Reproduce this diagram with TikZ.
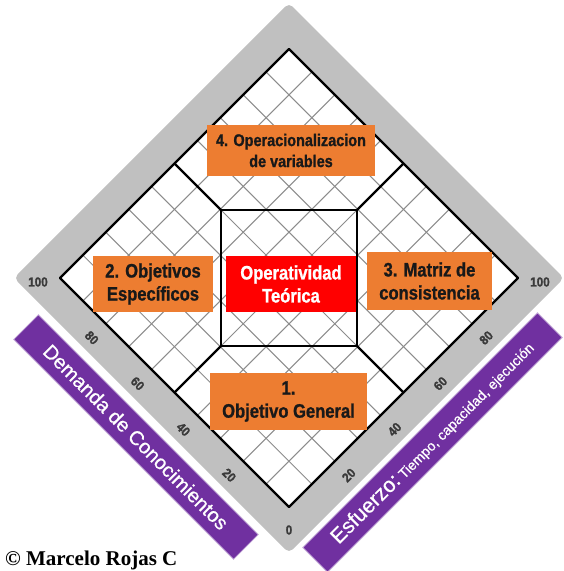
\documentclass[tikz,border=0pt]{standalone}
\usepackage{fontspec}
\usetikzlibrary{calc}
\newfontfamily\boxfont[FakeStretch=0.85,FakeBold=1]{Liberation Sans Bold}
\newfontfamily\numfont[FakeStretch=0.9,FakeBold=1.5]{Liberation Sans Bold}
\newfontfamily\bandfont[FakeBold=0.7]{Liberation Sans}
\newfontfamily\copyfont{Liberation Serif Bold}
\definecolor{rimgray}{HTML}{C0C0C0}
\definecolor{gridgray}{HTML}{8C8C8C}
\definecolor{numgray}{HTML}{3A3A3A}
\definecolor{boxorange}{HTML}{ED7D31}
\definecolor{boxred}{HTML}{FF0000}
\definecolor{bandpurple}{HTML}{7030A0}

\tikzset{
  thickline/.style={line width=2.4pt, black, line join=round},
  gridline/.style={line width=1pt, gridgray},
  goalbox/.style={fill=boxorange, inner sep=0pt, align=center, text=black!90,
    font=\boxfont\fontsize{19.5}{23}\selectfont},
  axisnum/.style={inner sep=0pt, text=numgray, font=\numfont\fontsize{13}{13}\selectfont},
  sideband/.style={fill=bandpurple, draw=bandpurple!35!white, line width=0.8pt,
    minimum height=35pt, inner sep=0pt, text=white, font=\bandfont},
}

\begin{document}
\begin{tikzpicture}[x=1pt,y=1pt]
  \useasboundingbox (-289,-293) rectangle (274,278);
  % gray rim
  \fill [rimgray, rounded corners=5pt] (0,275) -- (-275,0) -- (0,-275) -- (275,0) -- cycle;
  \coordinate (T) at (0,229);
  \coordinate (L) at (-229,0);
  \coordinate (B) at (0,-229);
  \coordinate (R) at (229,0);
  \fill [white] (T) -- (L) -- (B) -- (R) -- cycle;
  % grid
  \foreach \k in {1,...,9} {
    \draw [gridline] ($(L)!\k/10!(T)$) -- ($(B)!\k/10!(R)$);
    \draw [gridline] ($(L)!\k/10!(B)$) -- ($(T)!\k/10!(R)$);
  }
  % thick frame
  \coordinate (sqtl) at (-68,68);
  \coordinate (sqtr) at (68,68);
  \coordinate (sqbl) at (-68,-68);
  \coordinate (sqbr) at (68,-68);
  \coordinate (ftl) at (-114.5,114.5);
  \coordinate (ftr) at (114.5,114.5);
  \coordinate (fbl) at (-114.5,-114.5);
  \coordinate (fbr) at (114.5,-114.5);
  \draw [thickline] (T) -- (L) -- (B) -- (R) -- cycle;
  \draw [thickline] (sqtl) rectangle (sqbr);
  \draw [thickline] (sqtl) -- (ftl);
  \draw [thickline] (sqtr) -- (ftr);
  \draw [thickline] (sqbl) -- (fbl);
  \draw [thickline] (sqbr) -- (fbr);
  % scale numbers
  \node [axisnum] (num0) at (0,-252) {0};
  \node [axisnum] (lnum100) at (-251,-4) {100};
  \node [axisnum] (rnum100) at (251,-4) {100};
  \foreach \v in {20,40,60,80} {
    \node [axisnum, rotate=-45] (lnum\v) at ({-2.29*\v-14},{-229+2.29*\v-14}) {\v};
    \node [axisnum, rotate=45] (rnum\v) at ({2.29*\v+14},{-229+2.29*\v-14}) {\v};
  }
  % boxes
  \node [goalbox, minimum width=168pt, minimum height=51pt,
    font=\boxfont\fontsize{17}{21}\selectfont] (opvar) at (2,127.5) {4. Operacionalizacion\\de variables};
  \node [goalbox, minimum width=120pt, minimum height=56pt] (objesp) at (-136,-6) {2. Objetivos\\Específicos};
  \node [goalbox, fill=boxred, text=white, minimum width=130pt, minimum height=56pt] (opteo) at (2,-6) {Operatividad\\Teórica};
  \node [goalbox, minimum width=125pt, minimum height=58pt] (matriz) at (140.5,-3) {3. Matriz de\\consistencia};
  \node [goalbox, minimum width=157pt, minimum height=57pt] (opgen) at (-0.5,-123.5) {1.\\Objetivo General};
  % purple bands
  \node [sideband, minimum width=311pt, rotate=-45] (demanda) at (-153,-159)
    {\fontsize{20}{20}\selectfont Demanda de Conocimientos};
  \node [sideband, minimum width=332pt, rotate=45] (esfuerzo) at (143.5,-164.5)
    {{\fontsize{21}{21}\selectfont Esfuerzo:} {\fontsize{14}{14}\selectfont Tiempo, capacidad, ejecución}};
  % author
  \node [anchor=base west, inner sep=0pt, font=\copyfont\fontsize{21}{21}\selectfont] (autor) at (-284,-287)
    {\textcopyright\ Marcelo Rojas C};
\end{tikzpicture}
\end{document}
